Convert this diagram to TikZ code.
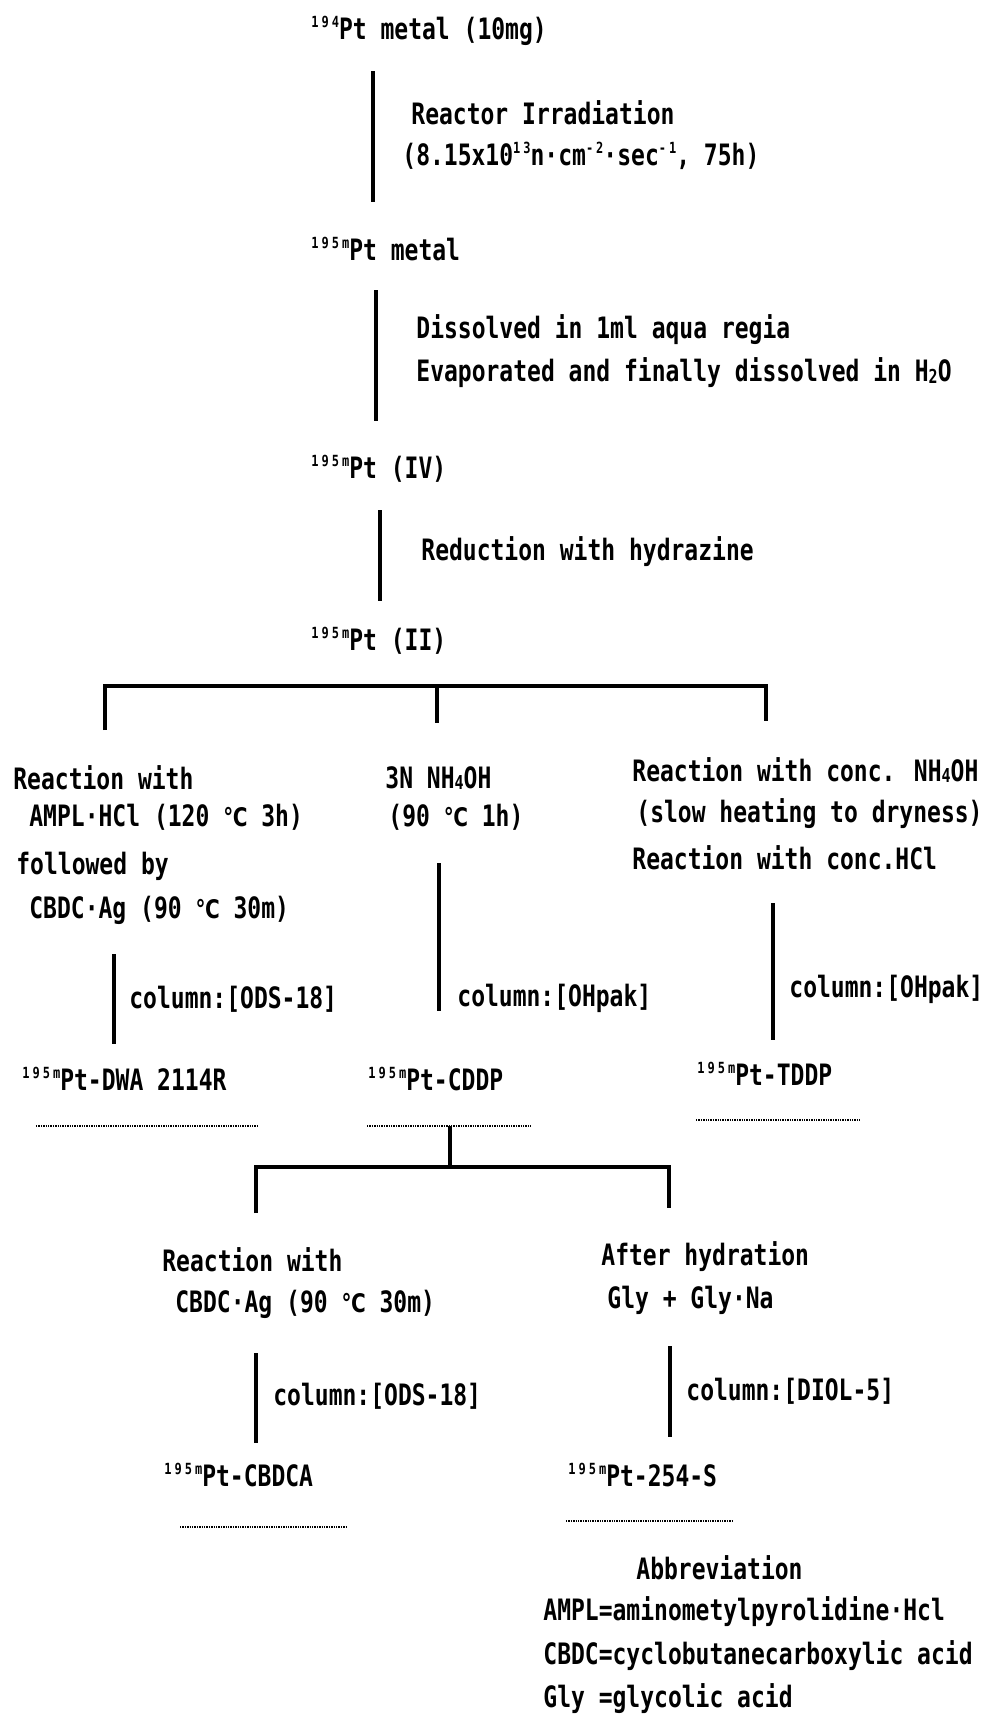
\documentclass[tikz,border=0pt]{standalone}
\usepackage{fontspec}
\usepackage{graphicx}
\setmainfont{DejaVu Sans Mono}
\newfontfamily\symf{DejaVu Sans}
\newcommand{\iso}[1]{\raisebox{0.75ex}{\fontsize{6}{6}\selectfont\addfontfeatures{LetterSpace=25}#1}}
\newcommand{\sbs}[1]{\raisebox{-0.1ex}{\fontsize{7.5}{7.5}\selectfont #1}}
\newcommand{\degC}{{\symf\fontsize{10}{10}\selectfont ℃}}
\newcommand{\T}[1]{\scalebox{1}[1.28]{#1}}
\tikzset{
  txt/.style={anchor=west,inner sep=0pt,font=\fontsize{11.5}{14}\selectfont\bfseries},
  proc/.style={line width=2pt,line cap=butt},
  bar/.style={line width=2pt,line cap=butt},
  uline/.style={line width=0.8pt,dash pattern=on 0.7pt off 0.5pt}
}
\begin{document}
\begin{tikzpicture}[x=0.5pt,y=-0.5pt]
\useasboundingbox (0,0) rectangle (989,1714);
% main chain
\node[txt] (top) at (311,31) {\T{\iso{194}Pt metal (10mg)}};
\coordinate (l1a) at (373,71); \coordinate (l1b) at (373,202);
\draw[proc] (l1a) -- (l1b);
\node[txt] (irr1) at (411,113) {\T{Reactor Irradiation}};
\node[txt] (irr2) at (402,156) {\T{(8.15x10\iso{13}n·cm\iso{-2}·sec\iso{-1}, 75h)}};
\node[txt] (metal) at (311,249) {\T{\iso{195m}Pt metal}};
\coordinate (l2a) at (376,290); \coordinate (l2b) at (376,421);
\draw[proc] (l2a) -- (l2b);
\node[txt] (diss1) at (416,330) {\T{Dissolved in 1ml aqua regia}};
\node[txt] (diss2) at (416,373) {\T{Evaporated and finally dissolved in H\sbs{2}O}};
\node[txt] (pt4) at (311,469) {\T{\iso{195m}Pt (IV)}};
\coordinate (l3a) at (380,510); \coordinate (l3b) at (380,601);
\draw[proc] (l3a) -- (l3b);
\node[txt] (red) at (421,552) {\T{Reduction with hydrazine}};
\node[txt] (pt2) at (311,641) {\T{\iso{195m}Pt (II)}};
% branch bar
\coordinate (bL) at (105,686); \coordinate (bM) at (437,686); \coordinate (bR) at (766,686);
\coordinate (dL) at (105,730); \coordinate (dM) at (437,723); \coordinate (dR) at (766,721);
\draw[bar] (dL) -- (bL) -- (bR) -- (dR);
\draw[bar] (bM) -- (dM);
% left column
\node[txt] (a1) at (13,778) {\T{Reaction with}};
\node[txt] (a2) at (29,817) {\T{AMPL·HCl (120 \degC{} 3h)}};
\node[txt] (a3) at (16,866) {\T{followed by}};
\node[txt] (a4) at (29,910) {\T{CBDC·Ag (90 \degC{} 30m)}};
\coordinate (la1) at (114,954); \coordinate (la2) at (114,1044);
\draw[proc] (la1) -- (la2);
\node[txt] (ca) at (129,999) {\T{column:[ODS-18]}};
\node[txt] (dwa) at (22,1079) {\T{\iso{195m}Pt-DWA 2114R}};
\coordinate (ua1) at (36,1126); \coordinate (ua2) at (257,1126);
\draw[uline] (ua1) -- (ua2);
% middle column
\node[txt] (b1) at (385,778) {\T{3N NH\sbs{4}OH}};
\node[txt] (b2) at (388,817) {\T{(90 \degC{} 1h)}};
\coordinate (lb1) at (439,863); \coordinate (lb2) at (439,1011);
\draw[proc] (lb1) -- (lb2);
\node[txt] (cb) at (457,998) {\T{column:[OHpak]}};
\node[txt] (cddp) at (368,1079) {\T{\iso{195m}Pt-CDDP}};
\coordinate (ub1) at (367,1126); \coordinate (ub2) at (531,1126);
\draw[uline] (ub1) -- (ub2);
% right column
\node[txt] (c1) at (632,770) {\T{Reaction with conc. NH\sbs{4}OH}};
\node[txt] (c2) at (636,814) {\T{(slow heating to dryness)}};
\node[txt] (c3) at (632,858) {\T{Reaction with conc.HCl}};
\coordinate (lc1) at (773,903); \coordinate (lc2) at (773,1040);
\draw[proc] (lc1) -- (lc2);
\node[txt] (cc) at (789,989) {\T{column:[OHpak]}};
\node[txt] (tddp) at (697,1074) {\T{\iso{195m}Pt-TDDP}};
\coordinate (uc1) at (696,1120); \coordinate (uc2) at (860,1120);
\draw[uline] (uc1) -- (uc2);
% sub branch
\coordinate (sT) at (450,1126); \coordinate (sM) at (450,1167);
\coordinate (sL) at (256,1167); \coordinate (sR) at (669,1167);
\coordinate (sLd) at (256,1213); \coordinate (sRd) at (669,1208);
\draw[bar] (sT) -- (sM);
\draw[bar] (sLd) -- (sL) -- (sR) -- (sRd);
% sub left
\node[txt] (d1) at (162,1260) {\T{Reaction with}};
\node[txt] (d2) at (175,1304) {\T{CBDC·Ag (90 \degC{} 30m)}};
\coordinate (ld1) at (256,1353); \coordinate (ld2) at (256,1443);
\draw[proc] (ld1) -- (ld2);
\node[txt] (cd) at (273,1396) {\T{column:[ODS-18]}};
\node[txt] (cbdca) at (164,1475) {\T{\iso{195m}Pt-CBDCA}};
\coordinate (ud1) at (180,1527); \coordinate (ud2) at (346,1527);
\draw[uline] (ud1) -- (ud2);
% sub right
\node[txt] (e1) at (601,1257) {\T{After hydration}};
\node[txt] (e2) at (607,1300) {\T{Gly + Gly·Na}};
\coordinate (le1) at (670,1346); \coordinate (le2) at (670,1437);
\draw[proc] (le1) -- (le2);
\node[txt] (ce) at (686,1391) {\T{column:[DIOL-5]}};
\node[txt] (s254) at (568,1475) {\T{\iso{195m}Pt-254-S}};
\coordinate (ue1) at (566,1521); \coordinate (ue2) at (732,1521);
\draw[uline] (ue1) -- (ue2);
% abbreviations
\node[txt] (ab) at (636,1568) {\T{Abbreviation}};
\node[txt] (ab1) at (543,1612) {\T{AMPL=aminometylpyrolidine·Hcl}};
\node[txt] (ab2) at (543,1656) {\T{CBDC=cyclobutanecarboxylic acid}};
\node[txt] (ab3) at (543,1699) {\T{Gly =glycolic acid}};
\end{tikzpicture}
\end{document}
